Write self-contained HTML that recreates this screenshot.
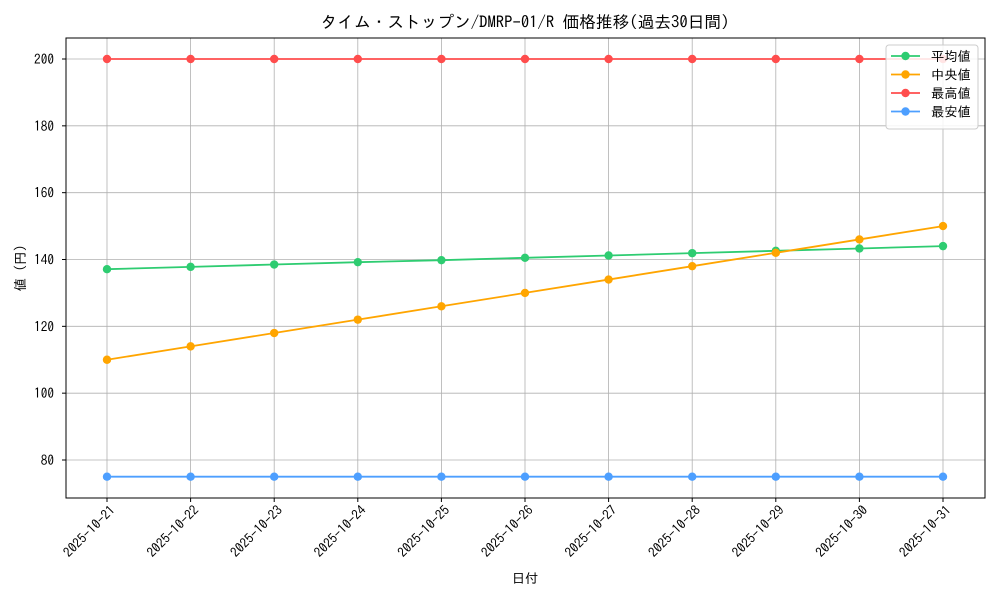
<!DOCTYPE html>
<html><head><meta charset="utf-8"><style>
body{margin:0;background:#fff;}
svg text{font-family:"IPAGothic","Liberation Mono","Noto Sans CJK JP",monospace;fill:#000;}
</style></head><body>
<svg id="c" width="1000" height="600" xmlns="http://www.w3.org/2000/svg"></svg>
<script>
const dates=["2025-10-21","2025-10-22","2025-10-23","2025-10-24","2025-10-25","2025-10-26","2025-10-27","2025-10-28","2025-10-29","2025-10-30","2025-10-31"];
const avgVals=[137.1,137.8,138.5,139.2,139.8,140.5,141.2,141.9,142.6,143.3,144.0];
const medVals=[110,114,118,122,126,130,134,138,142,146,150];
const maxVals=[200,200,200,200,200,200,200,200,200,200,200];
const minVals=[75,75,75,75,75,75,75,75,75,75,75];
const yTicks=[80,100,120,140,160,180,200];
const seriesNames=["平均値","中央値","最高値","最安値"];
const colors=["#2ecc71","#ffa500","#ff4d4d","#4d9fff"];
const NS="http://www.w3.org/2000/svg";
const svg=document.getElementById('c');
const L=66,R=985,T=38,B=498;
const x=i=>107+i*(943-107)/(dates.length-1);
const y=v=>59+(200-v)*(460-59)/120;
function el(t,a,p){const e=document.createElementNS(NS,t);for(const k in a)e.setAttribute(k,a[k]);(p||svg).appendChild(e);return e;}
yTicks.forEach(v=>{
 const g=el('line',{x1:L,x2:R,y1:y(v),y2:y(v),stroke:'#b0b0b0','stroke-width':0.8});
 
 
 el('line',{x1:L-4,x2:L,y1:y(v),y2:y(v),stroke:'#000'});
 const t=el('text',{x:L-12,y:y(v)+5,'text-anchor':'end','font-size':13.3});t.textContent=v;
 
 
});
dates.forEach((d,i)=>{
 const g=el('line',{x1:x(i),x2:x(i),y1:T,y2:B,stroke:'#b0b0b0','stroke-width':0.8});
 
 
 el('line',{x1:x(i),x2:x(i),y1:B,y2:B+4,stroke:'#000'});
 const t=el('text',{x:x(i)+9,y:B+13,'text-anchor':'end','font-size':13.3,transform:`rotate(-45 ${x(i)+9} ${B+13})`});t.textContent=d;
 
 
});
const all=[avgVals,medVals,maxVals,minVals];
all.forEach((vals,s)=>{
 const p=el('polyline',{points:vals.map((v,i)=>x(i)+','+y(v)).join(' '),fill:'none',stroke:colors[s],'stroke-width':1.8});
 
 
 vals.forEach((v,i)=>{
  const c=el('circle',{cx:x(i),cy:y(v),r:4.2,fill:colors[s]});
  
  
 });
});
const f=el('rect',{x:L,y:T,width:R-L,height:B-T,fill:'none',stroke:'#000','stroke-width':1});


const lg=el('g',{});


el('rect',{x:886,y:45,width:92,height:84,rx:3,fill:'#fff','fill-opacity':0.85,stroke:'#ccc'},lg);
seriesNames.forEach((n,s)=>{
 const yy=56+s*18.5;
 const e=el('g',{},lg);
 
 
 el('line',{x1:891,x2:920,y1:yy,y2:yy,stroke:colors[s],'stroke-width':1.8},e);
 el('circle',{cx:905.5,cy:yy,r:4.2,fill:colors[s]},e);
 const t=el('text',{x:931,y:yy+5,'font-size':13.3},e);t.textContent=n;
});
const ti=el('text',{x:525,y:28,'text-anchor':'middle','font-size':16.7});ti.textContent='タイム・ストップン/DMRP-01/R 価格推移(過去30日間)';


const xt=el('text',{x:525,y:583,'text-anchor':'middle','font-size':13.3});xt.textContent='日付';


const yt=el('text',{x:25,y:268,'text-anchor':'middle','font-size':13.3,transform:'rotate(-90 25 268)'});yt.textContent='値 (円)';


</script>
</body></html>
